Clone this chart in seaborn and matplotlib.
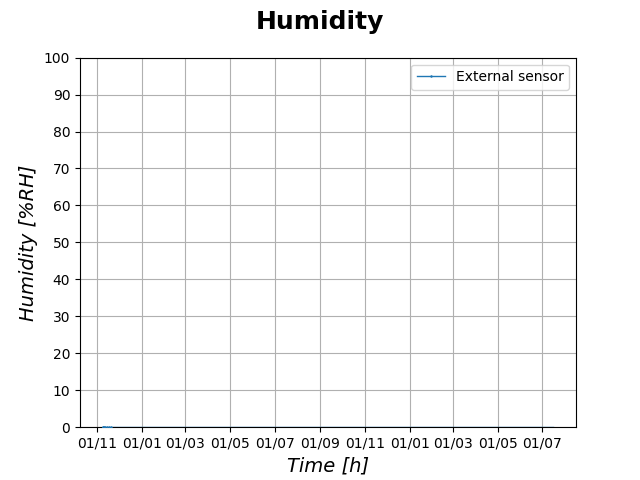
import pandas as pd
import matplotlib
matplotlib.use("Agg")
import matplotlib.pyplot as plt
import matplotlib.dates as mdates
import seaborn as sns

# readings from the external sensor (all sitting at 0 %RH)
times = ["2021-11-08 00:00", "2021-11-09 06:00", "2021-11-10 12:00", "2021-11-12 00:00",
         "2021-11-14 00:00", "2021-11-17 00:00", "2021-11-20 00:00", "2021-12-15 00:00",
         "2022-02-10 00:00", "2022-05-01 00:00", "2022-08-01 00:00", "2022-11-01 00:00",
         "2023-02-01 00:00", "2023-05-01 00:00", "2023-07-16 00:00"]
humidity = [0, 0, 0, 0, 0, 0, 0, 0, 0, 0, 0, 0, 0, 0, 0]

df = pd.DataFrame({"Time": pd.to_datetime(times), "Humidity": humidity})

# keep matplotlib's classic look (no seaborn theme)
plt.rcParams['font.family'] = ['DejaVu Sans']

fig, ax = plt.subplots(figsize=(6.4, 4.8), dpi=100)
sns.lineplot(x="Time", y="Humidity", data=df, ax=ax, color="#1f77b4",
             marker=".", markersize=2, markeredgecolor="#1f77b4", markevery=slice(0, 7),
             linewidth=1, label="External sensor", zorder=3)

fig.suptitle("Humidity", fontsize=18, fontweight="bold")
ax.set_xlabel("Time [h]", fontsize=14, fontstyle="italic")
ax.set_ylabel("Humidity [%RH]", fontsize=14, fontstyle="italic")
ax.set_ylim(0, 100)
ax.set_yticks(range(0, 101, 10))
ax.xaxis.set_major_locator(mdates.MonthLocator(bymonth=[1, 3, 5, 7, 9, 11]))
ax.xaxis.set_major_formatter(mdates.DateFormatter("%d/%m"))
ax.grid(True)
ax.legend(loc="upper right")

fig.savefig("out.png", dpi=100)
